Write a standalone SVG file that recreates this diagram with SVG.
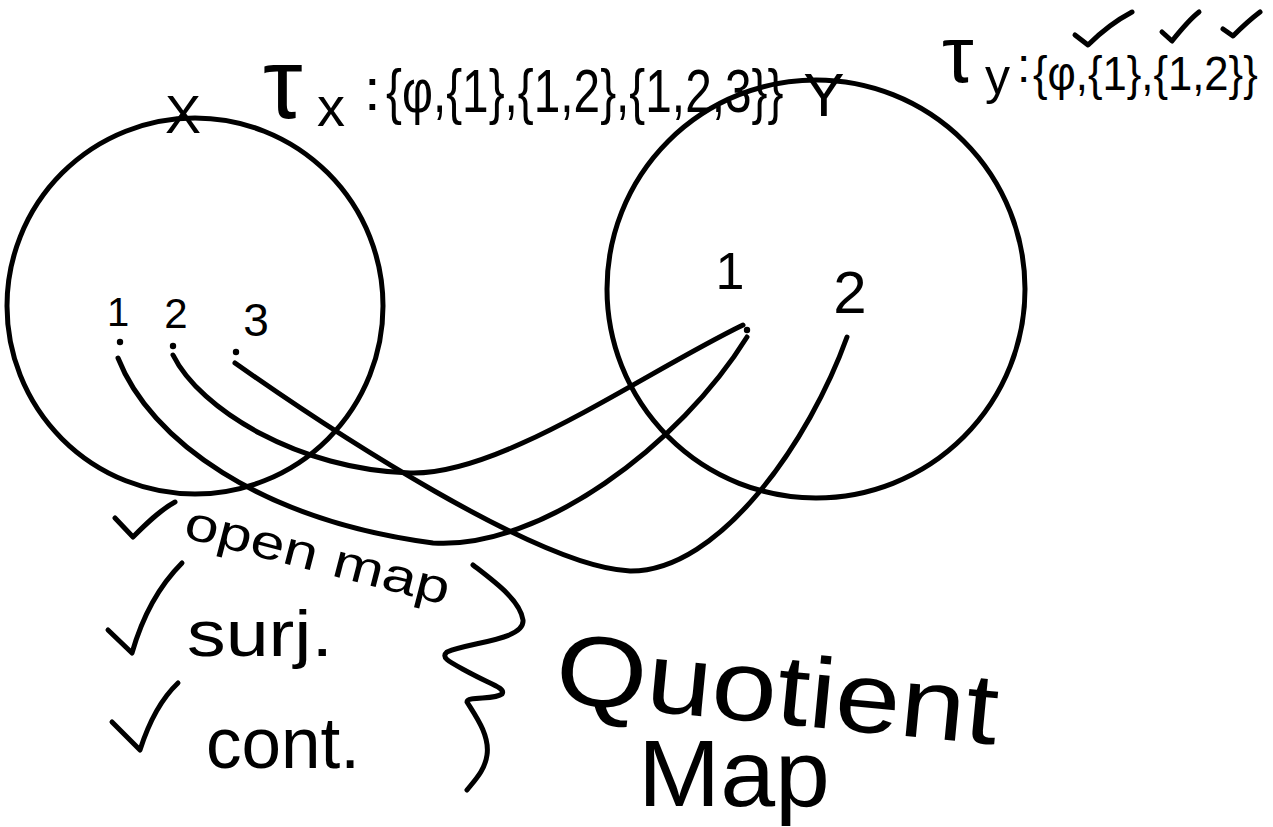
<svg xmlns="http://www.w3.org/2000/svg" width="1273" height="827" viewBox="0 0 1273 827">
<style>
.ln{fill:none;stroke:#000;stroke-width:5;stroke-linecap:round;stroke-linejoin:round}
.t{font-family:"Liberation Sans","DejaVu Sans",sans-serif;fill:#000}
.dot{fill:#000}
</style>
<rect width="1273" height="827" fill="#fff"/>
<g id="node-X">
<circle class="ln" cx="195" cy="306" r="188"/>
<text class="t" x="183" y="133" font-size="54" text-anchor="middle">X</text>
<text class="t" x="118" y="326" font-size="40" text-anchor="middle">1</text>
<text class="t" x="176" y="328" font-size="42" text-anchor="middle">2</text>
<text class="t" x="256" y="336" font-size="46" text-anchor="middle">3</text>
<circle class="dot" cx="120" cy="342" r="3.2"/>
<circle class="dot" cx="173" cy="346" r="3.2"/>
<circle class="dot" cx="236" cy="352" r="3.2"/>
</g>
<g id="node-Y">
<circle class="ln" cx="816" cy="289" r="209"/>
<text class="t" x="824" y="116" font-size="62" text-anchor="middle">Y</text>
<text class="t" x="730" y="289" font-size="52" text-anchor="middle">1</text>
<text class="t" x="850" y="313" font-size="60" text-anchor="middle">2</text>
<circle class="dot" cx="747" cy="330" r="3.2"/>
</g>
<g id="label-tau-x">
<text class="t" x="263" y="118" font-size="100">τ</text>
<text class="t" x="317" y="126" font-size="56">x</text>
<text class="t" x="364" y="110" font-size="60">:</text>
<g transform="translate(386,112) scale(0.77,1)">
<text class="t" x="0" y="0" font-size="62">{φ,{1},{1,2},{1,2,3}}</text>
</g>
</g>
<g id="label-tau-y">
<text class="t" x="942" y="82" font-size="80">τ</text>
<text class="t" x="985" y="94" font-size="50">y</text>
<text class="t" x="1017" y="82" font-size="48">:</text>
<g transform="translate(1033,90) scale(0.89,1)">
<text class="t" x="0" y="0" font-size="49">{φ,{1},{1,2}}</text>
</g>
<path class="ln" d="M1075,35 L1088,45 C1100,33 1115,21 1132,12"/>
<path class="ln" d="M1162,32 L1172,41 C1180,31 1190,19 1199,12"/>
<path class="ln" d="M1223,29 L1233,36 C1242,27 1252,18 1260,12"/>
</g>
<g id="connectors">
<path class="ln" d="M118,358 C150,440 260,520 433,543 C540,550 680,445 747,337"/>
<path class="ln" d="M173,355 C200,410 300,470 410,473 C500,476 640,375 743,325"/>
<path class="ln" d="M235,363 C330,430 540,568 630,571 C720,572 810,440 847,337"/>
</g>
<g id="properties">
<path class="ln" d="M115,518 L133,537 C145,525 160,510 175,502"/>
<text class="t" x="182" y="537" font-size="48" textLength="272" lengthAdjust="spacingAndGlyphs" transform="rotate(14.5 182 537)">open map</text>
<path class="ln" d="M108,630 L132,653 C140,625 155,590 182,563"/>
<text class="t" x="187" y="656" font-size="64" textLength="146" lengthAdjust="spacingAndGlyphs">surj.</text>
<path class="ln" d="M112,722 L140,750 C148,725 160,700 178,683"/>
<text class="t" x="206" y="768" font-size="72" textLength="154" lengthAdjust="spacingAndGlyphs">cont.</text>
<path class="ln" d="M473,565 C495,582 520,600 523,620 C525,640 470,642 447,652 C440,658 450,662 470,673 C490,684 506,688 502,694 C495,700 467,696 467,702 C475,715 490,735 487,755 C485,770 475,780 467,790"/>
</g>
<g id="conclusion">
<text class="t" x="553" y="702" font-size="100" textLength="444" lengthAdjust="spacingAndGlyphs" transform="rotate(5.5 553 702)">Quotient</text>
<text class="t" x="638" y="806" font-size="95" textLength="192" lengthAdjust="spacingAndGlyphs">Map</text>
</g>
</svg>
